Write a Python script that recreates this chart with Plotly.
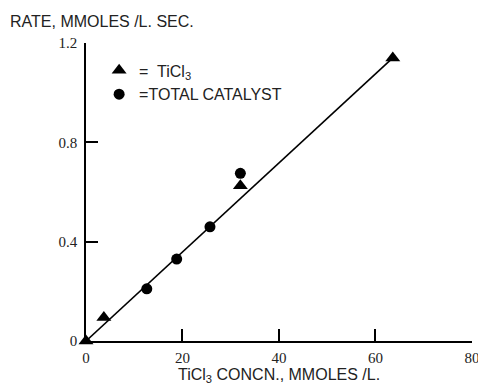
import plotly.graph_objects as go

# Data
tri_x = [0, 3.7, 32, 63.6]
tri_y = [0, 0.095, 0.625, 1.14]
circ_x = [12.6, 18.8, 25.7, 32]
circ_y = [0.21, 0.33, 0.46, 0.675]
fit_x = [0, 63.6]
fit_y = [0, 1.14]

x_ticks = [0, 20, 40, 60, 80]
y_ticks = [0, 0.4, 0.8, 1.2]
y_tick_labels = ["0", "0.4", "0.8", "1.2"]

fig = go.Figure()
fig.add_trace(go.Scatter(x=fit_x, y=fit_y, mode="lines",
                         line=dict(color="black", width=1.6),
                         showlegend=False, cliponaxis=False))
fig.add_trace(go.Scatter(x=tri_x, y=tri_y, mode="markers", name="=  TiCl<sub>3</sub>",
                         marker=dict(symbol="triangle-up", size=13, color="black"),
                         cliponaxis=False))
fig.add_trace(go.Scatter(x=circ_x, y=circ_y, mode="markers", name="=TOTAL CATALYST",
                         marker=dict(symbol="circle", size=11, color="black"),
                         cliponaxis=False))

fig.update_layout(
    width=478, height=385,
    margin=dict(l=86, r=6, t=43, b=44),
    paper_bgcolor="white", plot_bgcolor="white",
    font=dict(family="Liberation Sans", size=16, color="#222"),
    legend=dict(x=0.034, y=0.965, xanchor="left", yanchor="top",
                bgcolor="rgba(0,0,0,0)", itemwidth=30,
                font=dict(family="Liberation Sans", size=16, color="#222")),
    xaxis=dict(range=[0, 80.02], tickvals=x_ticks, ticktext=[str(v) for v in x_ticks],
               showgrid=False, zeroline=False, showline=True, linecolor="black",
               linewidth=1.5, ticks="inside", ticklen=12, tickwidth=1.5,
               tickcolor="black", ticklabelstandoff=2, ticklabeloverflow="allow",
               automargin=False,
               tickfont=dict(family="Liberation Serif", size=15, color="#222")),
    yaxis=dict(range=[0, 1.2], tickvals=y_ticks, ticktext=y_tick_labels,
               showgrid=False, zeroline=False, showline=True, linecolor="black",
               linewidth=1.5, ticks="inside", ticklen=12, tickwidth=1.5,
               tickcolor="black", ticklabelstandoff=4, automargin=False,
               tickfont=dict(family="Liberation Serif", size=15, color="#222")),
    annotations=[
        dict(text="RATE, MMOLES /L. SEC.", xref="paper", yref="paper",
             x=-78/386, y=1 + 22/298, xanchor="left", yanchor="middle",
             showarrow=False, font=dict(size=16)),
        dict(text="TiCl<sub>3</sub> CONCN., MMOLES /L.", xref="paper", yref="paper",
             x=(279-86)/386, y=-34/298, xanchor="center", yanchor="middle",
             showarrow=False, font=dict(size=16)),
    ],
)

fig.write_html("out.html")
